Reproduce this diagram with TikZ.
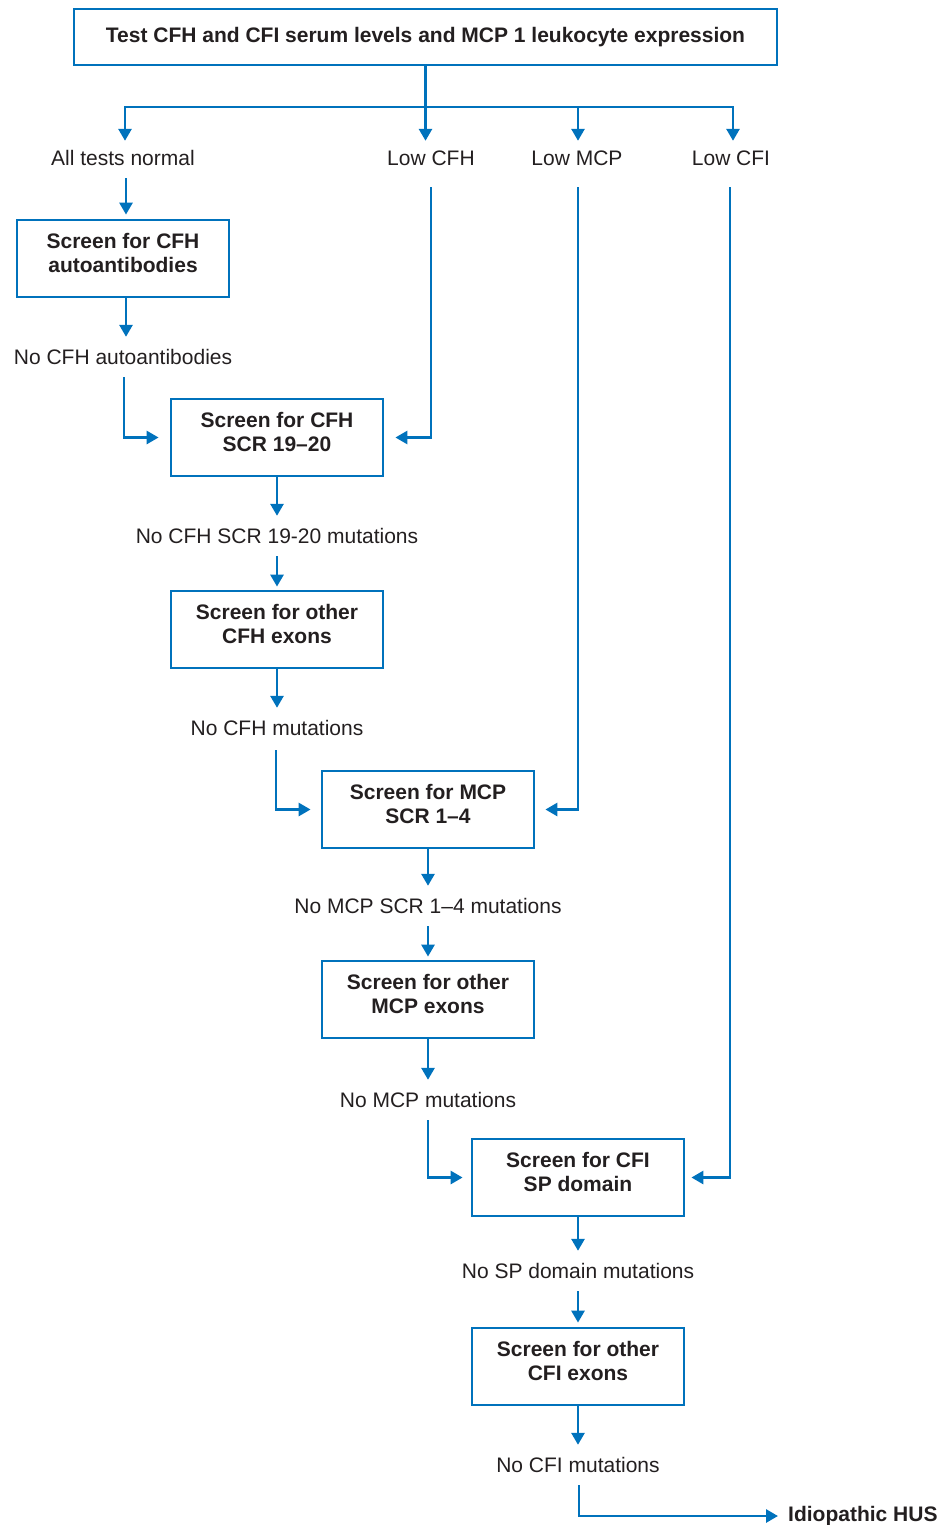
\documentclass[tikz,border=0pt]{standalone}
\usepackage{fontspec}
\setmainfont{Liberation Sans}
\usetikzlibrary{arrows.meta}
\definecolor{flowblue}{RGB}{0,114,188}
\definecolor{ink}{RGB}{35,31,32}
\newcommand{\boxtext}[1]{\raisebox{3pt}[\height][\depth]{\begin{tabular}{@{}c@{}}#1\end{tabular}}}
\begin{document}
\begin{tikzpicture}[x=1pt,y=-1pt,
  every node/.style={text=ink,font=\fontsize{21}{24}\selectfont},
  box/.style={draw=flowblue,line width=2.8pt,fill=white,minimum width=212pt,minimum height=77pt,inner sep=2pt,align=center,font=\fontsize{21}{24}\selectfont\bfseries},
  lbl/.style={minimum height=40pt,inner sep=0pt,align=center},
  conn/.style={draw=flowblue,line width=2.8pt},
  arr/.style={conn,-{Triangle[length=12pt,width=13pt]}}]
\useasboundingbox (0,0) rectangle (941,1525);
% boxes
\node[box,minimum width=703pt,minimum height=56pt] (b0) at (425.5,37) {\raisebox{1pt}{Test CFH and CFI serum levels and MCP 1 leukocyte expression}};
\node[box] (b1) at (123,258.5) {\boxtext{Screen for CFH\\autoantibodies}};
\node[box] (b2) at (277,437.5) {\boxtext{Screen for CFH\\SCR 19--20}};
\node[box] (b3) at (277,629.5) {\boxtext{Screen for other\\CFH exons}};
\node[box] (b4) at (428,809.5) {\boxtext{Screen for MCP\\SCR 1--4}};
\node[box] (b5) at (428,999.5) {\boxtext{Screen for other\\MCP exons}};
\node[box] (b6) at (578,1177.5) {\boxtext{Screen for CFI\\SP domain}};
\node[box] (b7) at (578,1366.5) {\boxtext{Screen for other\\CFI exons}};
% labels
\node[lbl] (alln) at (123,158) {All tests normal};
\node[lbl] (lowcfh) at (431,158) {Low CFH};
\node[lbl] (lowmcp) at (577,158) {Low MCP};
\node[lbl] (lowcfi) at (731,158) {Low CFI};
\node[lbl] (l1) at (123,357) {No CFH autoantibodies};
\node[lbl] (l2) at (277,536) {No CFH SCR 19-20 mutations};
\node[lbl] (l3) at (277,728) {No CFH mutations};
\node[lbl] (l4) at (428,906) {No MCP SCR 1--4 mutations};
\node[lbl] (l5) at (428,1100) {No MCP mutations};
\node[lbl] (l6) at (578,1271) {No SP domain mutations};
\node[lbl] (l7) at (578,1465) {No CFI mutations};
\node[inner sep=0pt,anchor=west,font=\fontsize{21}{24}\selectfont\bfseries] (hus) at (788,1516) {Idiopathic HUS};
% top distribution
\coordinate (jA) at (125,107);
\coordinate (jC) at (578,107);
\coordinate (jD) at (733,107);
\draw[conn,line cap=rect] (jA) -- (jD);
\draw[arr] (b0.south) -- ([yshift=-3pt]b0.south |- lowcfh.north);
\draw[arr] (jA) -- ([yshift=-3pt]jA |- alln.north);
\draw[arr] (jC) -- ([yshift=-3pt]jC |- lowmcp.north);
\draw[arr] (jD) -- ([yshift=-3pt]jD |- lowcfi.north);
% chain
\draw[arr,shorten >=4pt] ([xshift=3pt]alln.south) -- ([xshift=3pt]b1.north);
\draw[arr] ([xshift=3pt]b1.south) -- ([xshift=3pt]l1.north);
\draw[arr,shorten >=11pt] ([xshift=1pt]l1.south) |- (b2.west);
\draw[arr,shorten >=11pt] ([yshift=-9pt]lowcfh.south) |- (b2.east);
\draw[arr] (b2.south) -- (l2.north);
\draw[arr,shorten >=3pt] (l2.south) -- (b3.north);
\draw[arr] (b3.south) -- (l3.north);
\draw[arr,shorten >=10pt] ([xshift=-1pt,yshift=-2pt]l3.south) |- (b4.west);
\draw[arr,shorten >=10pt] ([xshift=1pt,yshift=-9pt]lowmcp.south) |- (b4.east);
\draw[arr] (b4.south) -- (l4.north);
\draw[arr,shorten >=3pt] (l4.south) -- (b5.north);
\draw[arr] (b5.south) -- (l5.north);
\draw[arr,shorten >=8pt] (l5.south) |- (b6.west);
\draw[arr,shorten >=6pt] ([xshift=-1pt,yshift=-9pt]lowcfi.south) |- (b6.east);
\draw[arr] (b6.south) -- (l6.north);
\draw[arr,shorten >=4pt] (l6.south) -- (b7.north);
\draw[arr] (b7.south) -- (l7.north);
\draw[arr,shorten >=10pt] ([xshift=1pt]l7.south) |- (hus.west);
\end{tikzpicture}
\end{document}
